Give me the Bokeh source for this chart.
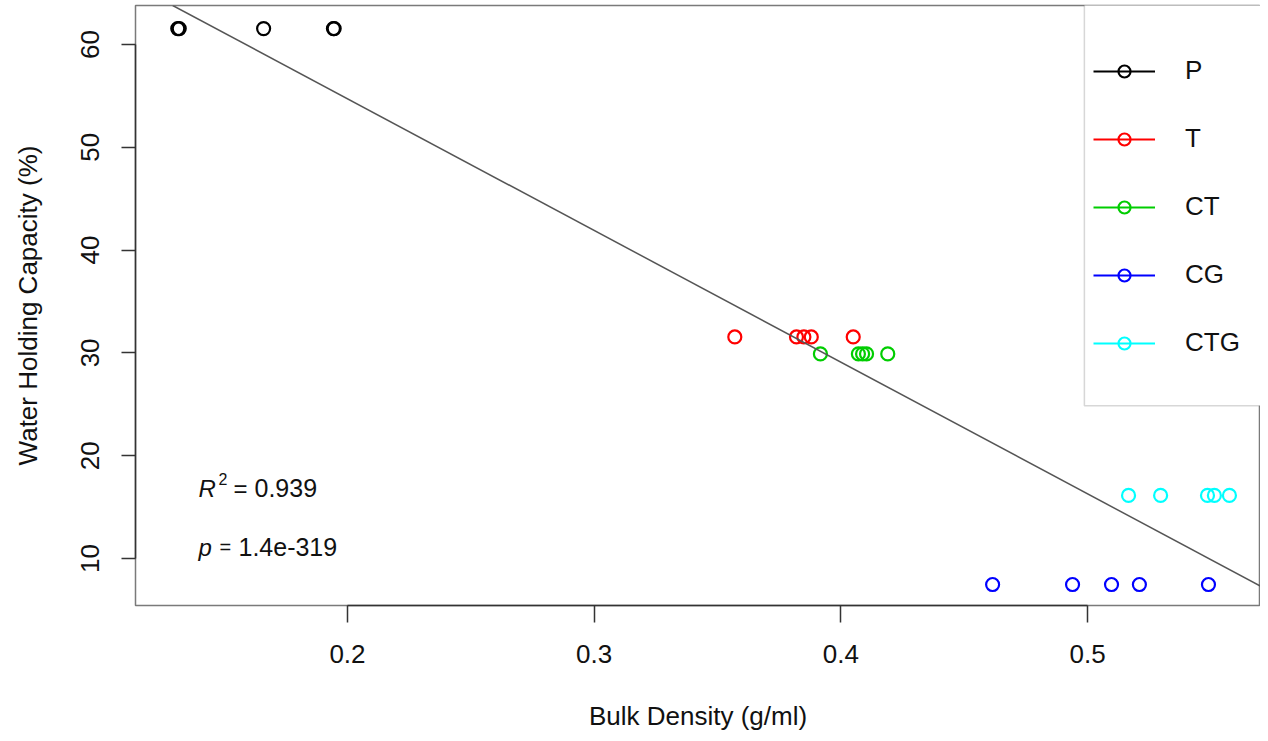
from bokeh.plotting import figure
from bokeh.models import (Range1d, FixedTicker, Slope, Legend, LegendItem,
                          BoxAnnotation, Label)
from bokeh.embed import file_html
from bokeh.resources import INLINE

# ---------------- data ----------------
groups = ["P", "T", "CT", "CG", "CTG"]
colors = ["#000000", "#FF0000", "#00CD00", "#0000FF", "#00FFFF"]

p_x = [0.1312, 0.1318, 0.1660, 0.1943, 0.1946]
p_y = [61.55, 61.55, 61.55, 61.55, 61.55]

t_x = [0.3570, 0.3820, 0.3850, 0.3880, 0.4050]
t_y = [31.55, 31.55, 31.55, 31.55, 31.55]

ct_x = [0.3917, 0.4071, 0.4088, 0.4104, 0.4190]
ct_y = [29.90, 29.90, 29.90, 29.90, 29.90]

cg_x = [0.4615, 0.4939, 0.5097, 0.5210, 0.5490]
cg_y = [7.47, 7.47, 7.47, 7.47, 7.47]

ctg_x = [0.5166, 0.5296, 0.5486, 0.5514, 0.5575]
ctg_y = [16.14, 16.14, 16.14, 16.14, 16.14]

series_x = [p_x, t_x, ct_x, cg_x, ctg_x]
series_y = [p_y, t_y, ct_y, cg_y, ctg_y]

x_ticks = [0.2, 0.3, 0.4, 0.5]
y_ticks = [10, 20, 30, 40, 50, 60]

fit_intercept = 80.34
fit_slope = -128.1

r2_text = "0.939"
p_text = "1.4e-319"

FONT = "Liberation Sans"

# ---------------- figure ----------------
p = figure(width=1260, height=733, output_backend="svg", toolbar_location=None,
           x_range=Range1d(0.11407, 0.57009), y_range=Range1d(5.428, 63.794),
           min_border_left=135, min_border_right=0, min_border_top=5,
           min_border_bottom=128)

p.background_fill_color = "white"
p.border_fill_color = "white"
p.outline_line_color = "#7a7a7a"
p.outline_line_width = 1.5
p.xgrid.visible = False
p.ygrid.visible = False

# axes
xa = p.xaxis[0]
xa.ticker = FixedTicker(ticks=x_ticks)
xa.bounds = (x_ticks[0], x_ticks[-1])
xa.axis_label = "Bulk Density (g/ml)"
ya = p.yaxis[0]
ya.ticker = FixedTicker(ticks=y_ticks)
ya.bounds = (y_ticks[0], y_ticks[-1])
ya.axis_label = "Water Holding Capacity (%)"
ya.major_label_orientation = "vertical"

for ax in (xa, ya):
    ax.axis_line_color = "#333333"
    ax.axis_line_width = 1.5
    ax.major_tick_line_color = "#333333"
    ax.major_tick_line_width = 1.5
    ax.major_tick_in = 0
    ax.minor_tick_line_color = None
    ax.major_label_text_font = FONT
    ax.major_label_text_font_size = "26px"
    ax.major_label_text_color = "#111111"
    ax.axis_label_text_font = FONT
    ax.axis_label_text_font_size = "26px"
    ax.axis_label_text_font_style = "normal"
    ax.axis_label_text_color = "#111111"

xa.major_tick_out = 17
xa.major_label_standoff = 22
xa.axis_label_standoff = 35
ya.major_tick_out = 14
ya.major_label_standoff = 22
ya.axis_label_standoff = 36

# legend box (drawn under glyphs, behind legend)
legend_box = BoxAnnotation(left=0.4987, right=0.62, bottom=24.86, top=70,
                           fill_color="white", fill_alpha=1.0,
                           line_color="#7a7a7a", line_width=1.5,
                           level="underlay")
p.add_layout(legend_box)

# regression line
p.add_layout(Slope(gradient=fit_slope, y_intercept=fit_intercept,
                   line_color="#555555", line_width=1.5))

# points
items = []
for name, col, xs, ys in zip(groups, colors, series_x, series_y):
    lr = p.line(xs, ys, line_color=col, line_width=2, visible=False)
    sr = p.scatter(xs, ys, marker="circle", size=13, fill_color=None,
                   line_color=col, line_width=2.2)
    items.append(LegendItem(label=name, renderers=[lr, sr]))

legend = Legend(items=items, location=(949, 238), padding=9, spacing=37,
                glyph_width=62, glyph_height=30, label_height=30,
                label_standoff=30, label_text_font=FONT,
                label_text_font_size="26px", label_text_color="#111111",
                border_line_alpha=0, background_fill_alpha=0, margin=0,
                inactive_fill_alpha=0)
p.add_layout(legend)

# annotation texts
ann_x = 0.1396
r_base = 16.81
p_base = 11.10
common = dict(text_font=FONT, text_color="#111111", text_baseline="alphabetic")
p.add_layout(Label(x=ann_x, y=r_base, text="R", text_font_size="24px",
                   text_font_style="italic", **common))
p.add_layout(Label(x=ann_x, y=r_base, x_offset=20, y_offset=9, text="2",
                   text_font_size="16px", **common))
p.add_layout(Label(x=ann_x, y=r_base, x_offset=35, text="=",
                   text_font_size="24px", **common))
p.add_layout(Label(x=ann_x, y=r_base, x_offset=56, text=r2_text,
                   text_font_size="25px", **common))
p.add_layout(Label(x=ann_x, y=p_base, text="p", text_font_size="24px",
                   text_font_style="italic", **common))
p.add_layout(Label(x=ann_x, y=p_base, x_offset=21, text="=",
                   text_font_size="20px", **common))
p.add_layout(Label(x=ann_x, y=p_base, x_offset=40, text=p_text,
                   text_font_size="25px", **common))

open("out.html", "w").write(file_html(p, INLINE))
